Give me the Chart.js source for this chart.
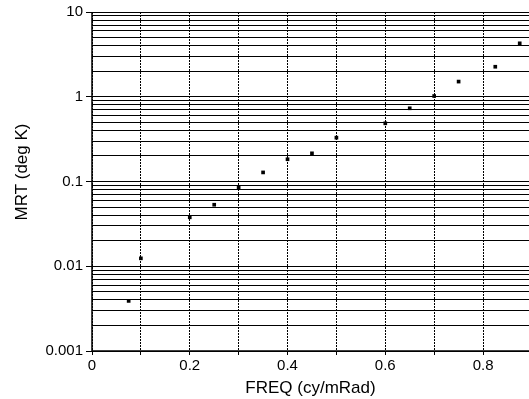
<!DOCTYPE html>
<html>
<head>
<meta charset="utf-8">
<script src="https://cdn.jsdelivr.net/npm/chart.js@4.4.1/dist/chart.umd.min.js"></script>
<style>
    body { margin: 0; background: #fff; }
    #caixa { width: 529px; height: 399px; }
</style>
</head>
<body>
<div id="caixa"><canvas id="grafico"></canvas></div>
<script>
// Dados
const freq = [0.075, 0.1, 0.2, 0.25, 0.3, 0.35, 0.4, 0.45, 0.5, 0.6, 0.65, 0.7, 0.75, 0.825, 0.875];
const mrt = [0.0039, 0.0124, 0.0378, 0.0532, 0.0845, 0.128, 0.183, 0.215, 0.329, 0.486, 0.731, 1.02, 1.51, 2.26, 4.27];

// Ticks dos eixos
const ticksX = [0, 0.1, 0.2, 0.3, 0.4, 0.5, 0.6, 0.7, 0.8];
const rotulosX = ['0', '', '0.2', '', '0.4', '', '0.6', '', '0.8'];
const decadas = [0.001, 0.01, 0.1, 1, 10];
const rotulosY = ['0.001', '0.01', '0.1', '1', '10'];
const multiplos = [1, 2, 3, 4, 5, 6, 7, 8, 9];

const fonte = 'Liberation Sans, Arial, sans-serif';
const tituloY = 'MRT (deg K)';

// linhas do eixo (esquerda e base) sólidas + título do eixo Y
const bordas = {
    id: 'bordas',
    afterDatasetsDraw(chart) {
        const a = chart.chartArea;
        const ctx = chart.ctx;
        ctx.save();
        ctx.strokeStyle = '#000';
        ctx.lineWidth = 1.5;
        ctx.beginPath();
        ctx.moveTo(a.left, a.top);
        ctx.lineTo(a.left, a.bottom);
        ctx.lineTo(a.right, a.bottom);
        ctx.stroke();

        // título vertical
        ctx.translate(22, 172);
        ctx.rotate(-Math.PI / 2);
        ctx.fillStyle = '#000';
        ctx.font = '17px ' + fonte;
        ctx.textAlign = 'center';
        ctx.textBaseline = 'middle';
        ctx.fillText(tituloY, 0, 0);
        ctx.restore();
    }
};

let pontos = [];
for (let i = 0; i < freq.length; i++) {
    pontos.push({ x: freq[i], y: mrt[i] });
}

const config = {
    type: 'scatter',
    data: {
        datasets: [{
            label: 'MRT',
            data: pontos,
            backgroundColor: '#000',
            borderColor: '#000',
            pointStyle: 'rect',
            pointRadius: 2.6,
            borderWidth: 0
        }]
    },
    options: {
        responsive: true,
        maintainAspectRatio: false,
        animation: false,
        layout: { autoPadding: false, padding: { top: 12, right: 0, left: 0, bottom: 0 } },
        plugins: {
            legend: { display: false },
            tooltip: { enabled: false }
        },
        scales: {
            x: {
                type: 'linear',
                min: 0,
                max: 0.894,
                afterBuildTicks: function (scale) {
                    scale.ticks = ticksX.map(v => ({ value: v }));
                },
                afterFit: function (scale) { scale.height = 48; },
                ticks: {
                    color: '#000',
                    font: { family: fonte, size: 15 },
                    padding: 2,
                    maxRotation: 0,
                    autoSkip: false,
                    callback: function (v, i) { return rotulosX[i]; }
                },
                grid: {
                    color: '#000',
                    lineWidth: 1,
                    tickLength: 4,
                    tickColor: '#000'
                },
                border: { display: false, dash: [2, 1] },
                title: {
                    display: true,
                    text: 'FREQ (cy/mRad)',
                    color: '#000',
                    font: { family: fonte, size: 17 },
                    padding: { top: 0, bottom: 0 }
                }
            },
            y: {
                type: 'logarithmic',
                min: 0.001,
                max: 10,
                afterBuildTicks: function (scale) {
                    let t = [];
                    for (let d = 0; d < decadas.length - 1; d++) {
                        for (let m of multiplos) {
                            t.push({ value: m == 1 ? decadas[d] : m * decadas[d] });
                        }
                    }
                    t.push({ value: decadas[decadas.length - 1] });
                    scale.ticks = t;
                },
                afterFit: function (scale) { scale.width = 92; },
                ticks: {
                    color: '#000',
                    font: { family: fonte, size: 15 },
                    padding: 3,
                    autoSkip: false,
                    callback: function (v) {
                        let i = decadas.indexOf(v);
                        return i >= 0 ? rotulosY[i] : '';
                    }
                },
                grid: {
                    color: '#000',
                    lineWidth: 1,
                    tickLength: 6,
                    tickColor: function (c) {
                        return decadas.includes(c.tick.value) ? '#000' : 'rgba(0,0,0,0)';
                    }
                },
                border: { display: false }
            }
        }
    },
    plugins: [bordas]
};

let myChart = new Chart(document.getElementById('grafico'), config);
</script>
</body>
</html>
